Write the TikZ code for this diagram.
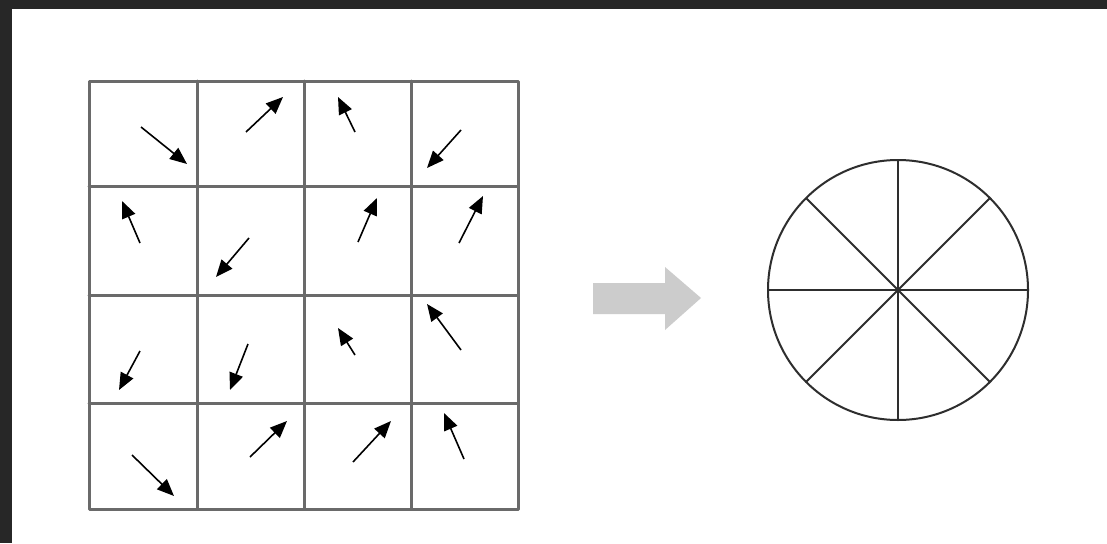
\documentclass[tikz,border=0pt]{standalone}
\usetikzlibrary{arrows.meta}
\definecolor{frame}{HTML}{272727}
\definecolor{gridgray}{HTML}{6A6A6A}
\definecolor{bigarrow}{HTML}{CCCCCC}
\definecolor{wheel}{HTML}{2E2E2E}
\begin{document}
\begin{tikzpicture}[x=1pt,y=-1pt,
  gridline/.style={draw=gridgray,line width=3pt,line cap=round,line join=round},
  vec/.style={draw=black,line width=1.6pt,-{Triangle[length=17pt,width=14pt]}},
  wheelline/.style={draw=wheel,line width=2pt}]
\useasboundingbox (0,0) rectangle (1107,543);
\fill[frame] (0,0) rectangle (1107,543);
\fill[white] (12,9) rectangle (1107,543);
% grid
\draw[gridline] (89,81) rectangle (518,509);
\foreach \x in {197,304,411} \draw[gridline] (\x,81) -- (\x,509);
\foreach \y in {186,295,403} \draw[gridline] (89,\y) -- (518,\y);
% vectors row 1
\draw[vec] (141,127) -- (187,164);
\draw[vec] (246,132) -- (283,97);
\draw[vec] (355,132) -- (338,97);
\draw[vec] (461,130) -- (427,168);
% row 2
\draw[vec] (140,243) -- (122,201);
\draw[vec] (249,238) -- (216,277);
\draw[vec] (358,242) -- (377,198);
\draw[vec] (459,243) -- (483,196);
% row 3
\draw[vec] (140,351) -- (119,390);
\draw[vec] (248,344) -- (230,390);
\draw[vec] (355,355) -- (338,328);
\draw[vec] (461,350) -- (427,304);
% row 4
\draw[vec] (132,455) -- (174,496);
\draw[vec] (250,457) -- (287,421);
\draw[vec] (353,462) -- (391,421);
\draw[vec] (464,459) -- (444,413);
% big gray arrow
\fill[bigarrow] (593,283) -- (665,283) -- (665,267) -- (701,298) -- (665,330) -- (665,314) -- (593,314) -- cycle;
% wheel
\coordinate (c) at (898,290);
\draw[wheelline] (c) circle[radius=130];
\foreach \a in {0,45,...,315} \draw[wheelline] (c) -- ++(\a:130);
\end{tikzpicture}
\end{document}
